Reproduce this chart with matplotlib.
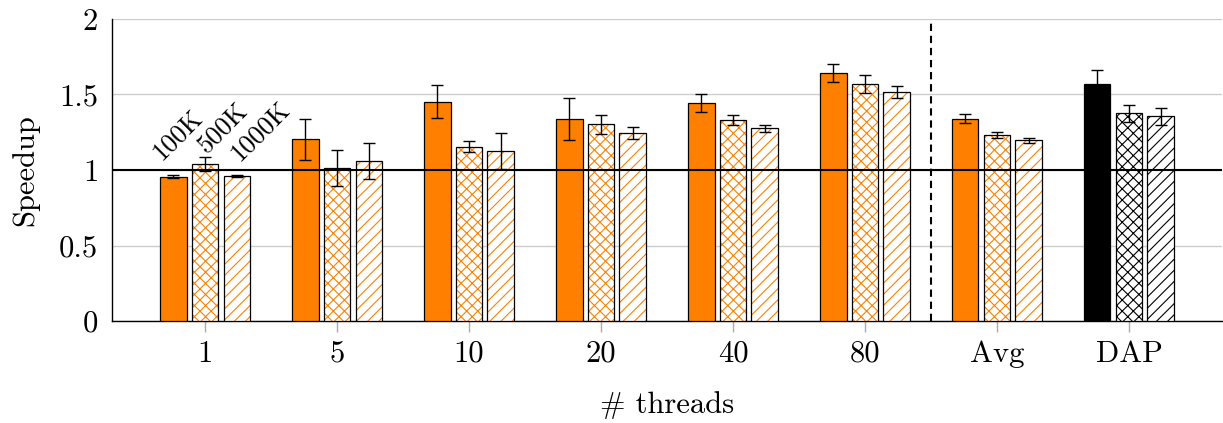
import matplotlib
matplotlib.use("Agg")
import matplotlib.pyplot as plt
import numpy as np

# Thread counts / summary groups on the x axis
groups = ["1", "5", "10", "20", "40", "80", "Avg", "DAP"]
series = ["100K", "500K", "1000K"]

# Mean speedup and error (half-range) per input size
speed_100k = [0.956, 1.203, 1.452, 1.336, 1.444, 1.642, 1.340, 1.572]
err_100k = [0.010, 0.134, 0.110, 0.140, 0.060, 0.060, 0.030, 0.092]
speed_500k = [1.037, 1.011, 1.154, 1.302, 1.331, 1.572, 1.234, 1.375]
err_500k = [0.046, 0.120, 0.037, 0.064, 0.034, 0.060, 0.020, 0.057]
speed_1000k = [0.960, 1.060, 1.124, 1.245, 1.276, 1.519, 1.197, 1.355]
err_1000k = [0.004, 0.120, 0.118, 0.038, 0.024, 0.040, 0.017, 0.055]

values = [speed_100k, speed_500k, speed_1000k]
errors = [err_100k, err_500k, err_1000k]
hatches = [None, "xxx", "///"]

plt.rcParams["font.family"] = "serif"
plt.rcParams["font.serif"] = ["cmr10", "DejaVu Serif"]
plt.rcParams["mathtext.fontset"] = "cm"
plt.rcParams["axes.formatter.use_mathtext"] = True
plt.rcParams["hatch.linewidth"] = 0.8

ORANGE = "#ff8000"

fig = plt.figure(figsize=(12.23, 4.23), dpi=100)
ax = fig.add_axes([112 / 1223, (423 - 321) / 423, 1110 / 1223, 302 / 423])

x = np.arange(len(groups))
width = 0.2
step = 0.24

for i in range(len(series)):
    for j, g in enumerate(groups):
        color = "black" if g == "DAP" else ORANGE
        pos = x[j] + (i - 1) * step
        v = values[i][j]
        if hatches[i] is None:
            ax.bar(pos, v, width, color=color, edgecolor="black",
                   linewidth=0.9, zorder=3)
        else:
            # hatch drawn in the series colour, outline in black on top
            ax.bar(pos, v, width, facecolor="white", edgecolor=color,
                   hatch=hatches[i], linewidth=0, zorder=3)
            ax.bar(pos, v, width, facecolor="none", edgecolor="black",
                   linewidth=0.9, zorder=3.1)
        ax.errorbar(pos, v, yerr=errors[i][j], fmt="none", ecolor="black",
                    elinewidth=1.0, capsize=4, capthick=1.0, zorder=4)

# rotated size labels above the first group
label_pos = [(-0.204, 1.232), (0.136, 1.278), (0.416, 1.258)]
for name, (lx, ly) in zip(series, label_pos):
    ax.text(lx, ly, name, rotation=45, ha="center", va="center",
            fontsize=19, zorder=5)

ax.axhline(1.0, color="black", linewidth=1.5, zorder=5)
ax.axvline(5.5, color="black", linewidth=1.5, linestyle=(0, (3.5, 2.3)),
           zorder=5)

ax.set_xlim(-0.705, len(groups) - 1 + 0.705)
ax.set_ylim(0, 2)
ax.set_yticks([0, 0.5, 1, 1.5, 2])
ax.set_yticklabels(["0", "0.5", "1", "1.5", "2"])
ax.set_xticks(x)
ax.set_xticklabels(groups)

ax.grid(axis="y", color="#cccccc", linewidth=1.0, zorder=0)
ax.set_axisbelow(True)

for side in ("top", "right"):
    ax.spines[side].set_visible(False)
ax.spines["left"].set_linewidth(1.0)
ax.spines["bottom"].set_linewidth(1.0)

ax.tick_params(axis="x", length=8, width=1, color="#aaaaaa", pad=6,
               labelsize=22)
ax.tick_params(axis="y", length=0, pad=10, labelsize=22)

ax.set_ylabel("Speedup", fontsize=22, labelpad=14)
ax.set_xlabel("# threads", fontsize=22, labelpad=17)

fig.savefig("out.png", dpi=100)
